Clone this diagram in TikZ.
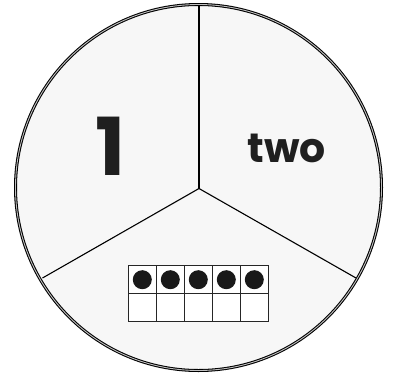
\documentclass[tikz,border=0pt]{standalone}
\usepackage{fontspec}
\setmainfont{Poppins}[BoldFont={* Bold}]
\begin{document}
\begin{tikzpicture}[x=1pt,y=-1pt,
  wheel/.style={draw=black, line width=1.05pt, double=black!25, double distance=0.9pt, fill=black!3},
  spoke/.style={draw=black, line width=1.1pt},
  cell/.style={draw=black!85, line width=0.9pt, fill=white, minimum width=28pt, minimum height=28pt, inner sep=0pt},
  dot/.style={fill=black!90, circle, inner sep=0pt, minimum size=19pt},
  bigtxt/.style={font=\bfseries, text=black!88, inner sep=0pt}]
\useasboundingbox (0,0) rectangle (393,375);
\fill[white] (0,0) rectangle (393,375);
\coordinate (c) at (199,188.5);
\node[wheel, circle, minimum size=366pt, inner sep=0pt] (w) at (198.5,187.5) {};
\coordinate (top) at (199,6);
\coordinate (ll) at (42.5,278);
\coordinate (lr) at (356,278);
\draw[spoke] (c) -- (top);
\draw[spoke] (c) -- (ll);
\draw[spoke] (c) -- (lr);
\node[bigtxt, font=\fontsize{80}{80}\selectfont\bfseries] (one) at (111,146) {1};
\node[bigtxt, font=\fontsize{41}{41}\selectfont\bfseries] (two) at (286.5,148.5) {two};
\foreach \i in {0,...,4}{
  \node[cell] (a\i) at (142.3+28*\i,279.7) {};
  \node[cell] (b\i) at (142.3+28*\i,307.7) {};
  \node[dot] (d\i) at (a\i) {};
}
\end{tikzpicture}
\end{document}
